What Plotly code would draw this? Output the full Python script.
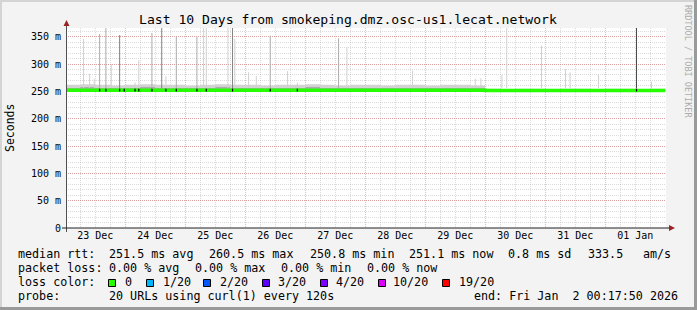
import plotly.graph_objects as go
import pandas as pd

# ---------------- data ----------------
range_start = "2025-12-23 00:17:50"
range_end = "2026-01-02 00:17:50"

# smoke band, 6-hour steps starting 2025-12-23 00:00
band_times = pd.date_range("2025-12-23 00:00", "2026-01-02 00:00", freq="6h")
smoke_lo = [249.5] * 28 + [250.0] * 13
smoke_mid = [257, 258, 257, 256, 257, 258, 257, 257, 256, 257, 258, 257, 257, 256,
             257, 257, 258, 257, 256, 257, 257, 256, 257, 257, 256, 257, 257, 256,
             253.5, 253, 253.5, 253.5, 253, 253.5, 253.5, 253, 253.5, 253.5, 253, 253.5, 253.5]
smoke_hi = [262, 263, 262, 261, 262, 263, 262, 262, 261, 262, 263, 262, 262, 261,
            262, 262, 263, 262, 261, 262, 262, 261, 262, 262, 261, 262, 262, 261,
            255, 254.5, 255, 255, 254.5, 255, 255, 254, 255, 255, 254.5, 255, 255]
median_rtt = [252.2, 252.0, 252.3, 252.1, 252.2, 252.0, 252.3, 252.1, 252.2, 252.0, 252.1, 252.2, 252.0, 252.1,
              252.2, 252.0, 252.1, 252.2, 252.0, 252.1, 252.2, 252.0, 252.1, 252.2, 252.0, 252.1, 252.0, 251.9,
              251.4, 251.5, 251.4, 251.5, 251.4, 251.6, 251.4, 251.5, 251.4, 251.5, 251.4, 251.5, 251.5]

spike_times = ["2025-12-23 07:20", "2025-12-23 09:45", "2025-12-23 11:35", "2025-12-23 13:45",
               "2025-12-23 16:15", "2025-12-23 18:25", "2025-12-23 21:45", "2025-12-24 03:55",
               "2025-12-24 05:25", "2025-12-24 10:40", "2025-12-24 14:35", "2025-12-24 16:15",
               "2025-12-24 20:25", "2025-12-25 04:40", "2025-12-25 07:20", "2025-12-25 08:25",
               "2025-12-25 17:05", "2025-12-25 18:55", "2025-12-25 19:50", "2025-12-26 01:20",
               "2025-12-26 04:25", "2025-12-26 10:00", "2025-12-26 16:55", "2025-12-26 20:50",
               "2025-12-27 13:20", "2025-12-27 16:40", "2025-12-28 18:55", "2025-12-29 20:00",
               "2025-12-29 22:15", "2025-12-30 06:40", "2025-12-30 08:35", "2025-12-30 22:30",
               "2025-12-31 08:05", "2025-12-31 09:55", "2025-12-31 21:20", "2026-01-01 12:30",
               "2026-01-01 18:30"]
spike_tops = [346, 282, 273, 355, 366, 300, 353, 266, 307, 357, 366, 278, 350, 350, 366, 366,
              366, 366, 346, 285, 278, 352, 287, 266, 347, 331, 288, 273, 274, 280, 366, 334,
              291, 285, 280, 366, 268]
spike_shade = ["l", "l", "l", "m", "m", "l", "d", "l", "l", "m", "d", "l", "m", "m", "l", "l",
               "l", "d", "l", "l", "l", "m", "l", "l", "m", "l", "l", "l", "l", "l", "l", "l",
               "l", "l", "l", "k", "l"]

mark_times = ["2025-12-23 13:45", "2025-12-23 16:15", "2025-12-23 21:45", "2025-12-23 23:35",
              "2025-12-24 03:55", "2025-12-24 05:25", "2025-12-24 10:40", "2025-12-24 16:15",
              "2025-12-24 20:25", "2025-12-25 04:40", "2025-12-25 08:25", "2025-12-25 18:55",
              "2025-12-26 10:00", "2025-12-26 20:50", "2026-01-01 12:30"]
mark_lo = [249.8] * len(mark_times)
mark_hi = [255.0] * len(mark_times)

y_tick_vals = [0, 50, 100, 150, 200, 250, 300, 350]
y_tick_text = ["0", "50 m", "100 m", "150 m", "200 m", "250 m", "300 m", "350 m"]

title_text = "Last 10 Days from smokeping.dmz.osc-us1.lecat.network"
rtt_fields = ["median rtt:", "251.5 ms avg", "260.5 ms max", "250.8 ms min", "251.1 ms now",
              "0.8 ms sd", "333.5", "am/s"]
loss_fields = ["packet loss:", "0.00 % avg", "0.00 % max", "0.00 % min", "0.00 % now"]
loss_title = "loss color:"
loss_labels = ["0", "1/20", "2/20", "3/20", "4/20", "10/20", "19/20"]
loss_colors = ["#26ff00", "#00b8ff", "#0059ff", "#5e00ff", "#7e00ff", "#dd00ff", "#ff0000"]
probe_fields = ["probe:", "20 URLs using curl(1) every 120s"]
end_text = "end: Fri Jan  2 00:17:50 2026"

# ---------------- layout helpers ----------------
W, H = 697, 310
L, R, T, B = 66, 31, 28, 82
PW, PH = W - L - R, H - T - B
MONO = "DejaVu Sans Mono"
LEG_SIZE = 11.7


def px(x):
    return (x - L) / PW


def py(y):
    return (H - B - y) / PH


def nb(s):
    return s.replace(" ", "\u00a0")


fig = go.Figure()

# smoke band
fig.add_trace(go.Scatter(x=band_times, y=smoke_lo, mode="lines", line=dict(width=0, shape="hv"),
                         hoverinfo="skip", showlegend=False))
fig.add_trace(go.Scatter(x=band_times, y=smoke_mid, mode="lines", line=dict(width=0, shape="hv"),
                         fill="tonexty", fillcolor="#ababab", hoverinfo="skip", showlegend=False))
fig.add_trace(go.Scatter(x=band_times, y=smoke_hi, mode="lines", line=dict(width=0, shape="hv"),
                         fill="tonexty", fillcolor="#d2d2d2", hoverinfo="skip", showlegend=False))

# spikes
shade_colors = {"l": "#d0d0d0", "m": "#ababab", "d": "#808080", "k": "#4a4a4a"}
for shade, col in shade_colors.items():
    xs, ys = [], []
    for t, top, s in zip(spike_times, spike_tops, spike_shade):
        if s == shade:
            xs += [t, t, None]
            ys += [256, top, None]
    fig.add_trace(go.Scatter(x=xs, y=ys, mode="lines", line=dict(color=col, width=1),
                             hoverinfo="skip", showlegend=False))

# median line
fig.add_trace(go.Scatter(x=band_times, y=median_rtt, mode="lines",
                         line=dict(color="#26ff00", width=3.5, shape="hv"),
                         hoverinfo="skip", showlegend=False))
mx, my = [], []
for t, lo, hi in zip(mark_times, mark_lo, mark_hi):
    mx += [t, t, None]
    my += [lo, hi, None]
fig.add_trace(go.Scatter(x=mx, y=my, mode="lines", line=dict(color="black", width=1.2),
                         hoverinfo="skip", showlegend=False))

minor_grid = "rgba(160,160,160,0.38)"
major_grid = "rgba(215,90,90,0.45)"

fig.update_xaxes(type="date", range=[range_start, range_end], showgrid=True,
                 gridcolor=major_grid, griddash="1px,1px", gridwidth=1,
                 dtick=86400000, tick0="2025-12-23 00:00", tickformat="%d %b",
                 ticklabelmode="period", ticks="", zeroline=False, showline=False,
                 tickfont=dict(family=MONO, size=10, color="black"),
                 minor=dict(dtick=21600000, tick0="2025-12-23 00:00", showgrid=True,
                            gridcolor=minor_grid, griddash="1px,1px", gridwidth=1),
                 fixedrange=True)
fig.update_yaxes(range=[0, 366], tickvals=y_tick_vals, ticktext=y_tick_text, showgrid=True,
                 gridcolor=major_grid, griddash="1px,1px", gridwidth=1, zeroline=False,
                 showline=False, ticks="", ticklabelstandoff=4,
                 tickfont=dict(family=MONO, size=10, color="black"),
                 minor=dict(dtick=10, tick0=0, showgrid=True, gridcolor=minor_grid,
                            griddash="1px,1px", gridwidth=1),
                 fixedrange=True)

shapes = []
# image border
shapes.append(dict(type="line", xref="paper", yref="paper", x0=px(0), x1=px(W), y0=py(1), y1=py(1),
                   line=dict(color="#d4d4d4", width=2)))
shapes.append(dict(type="line", xref="paper", yref="paper", x0=px(1), x1=px(1), y0=py(0), y1=py(H),
                   line=dict(color="#d4d4d4", width=2)))
shapes.append(dict(type="line", xref="paper", yref="paper", x0=px(0), x1=px(W), y0=py(H - 1.5), y1=py(H - 1.5),
                   line=dict(color="#9a9a9a", width=3)))
shapes.append(dict(type="line", xref="paper", yref="paper", x0=px(W - 1.5), x1=px(W - 1.5), y0=py(0), y1=py(H),
                   line=dict(color="#9a9a9a", width=3)))
# axes
shapes.append(dict(type="line", xref="paper", yref="paper", x0=px(66.5), x1=px(66.5), y0=py(232), y1=py(24),
                   line=dict(color="#505050", width=1)))
shapes.append(dict(type="line", xref="paper", yref="paper", x0=px(62), x1=px(670), y0=py(228), y1=py(228),
                   line=dict(color="#202020", width=1)))
shapes.append(dict(type="path", xref="paper", yref="paper",
                   path=f"M {px(63.5)} {py(26)} L {px(69.5)} {py(26)} L {px(66.5)} {py(20)} Z",
                   fillcolor="#9b2222", line=dict(width=0)))
shapes.append(dict(type="path", xref="paper", yref="paper",
                   path=f"M {px(669)} {py(225)} L {px(669)} {py(231)} L {px(675)} {py(228)} Z",
                   fillcolor="#9b2222", line=dict(width=0)))
# loss colour boxes
box_x = [108, 146, 203, 262, 320, 378, 442]
label_x = [123, 161, 218, 276, 334, 391, 457]
for bx, c in zip(box_x, loss_colors):
    shapes.append(dict(type="rect", xref="paper", yref="paper", x0=px(bx + 0.5), x1=px(bx + 7.5),
                       y0=py(286.5), y1=py(279.5), fillcolor=c, line=dict(color="black", width=1)))

annotations = []


def text_at(s, x, y, anchor="left", size=LEG_SIZE, **kw):
    annotations.append(dict(text=nb(s), xref="paper", yref="paper", x=px(x), y=py(y),
                            xanchor=anchor, yanchor="middle", showarrow=False,
                            font=dict(family=MONO, size=size, color=kw.pop("color", "black")), **kw))


text_at(title_text, 348, 19.5, anchor="center", size=13.1)
text_at("Seconds", 10, 128, anchor="center", size=11.5, textangle=-90)
text_at("RRDTOOL / TOBI OETIKER", 688.5, 61.5, anchor="center", size=8.5, color="#acacac", textangle=90)

rtt_x = [16, 107, 207, 308, 407, 506, 586, 641]
for s, x in zip(rtt_fields, rtt_x):
    text_at(s, x, 254.3)
loss_x = [16, 107, 193, 279, 365]
for s, x in zip(loss_fields, loss_x):
    text_at(s, x, 268.3)
text_at(loss_title, 16, 282.3)
for lx, lab in zip(label_x, loss_labels):
    text_at(lab, lx, 282.3)
probe_x = [16, 107]
for s, x in zip(probe_fields, probe_x):
    text_at(s, x, 296.2)
text_at(end_text, 680, 296.2, anchor="right")

fig.update_layout(width=W, height=H, margin=dict(l=L, r=R, t=T, b=B, pad=0),
                  paper_bgcolor="#f3f3f3", plot_bgcolor="white", showlegend=False,
                  shapes=shapes, annotations=annotations)

fig.write_html("out.html", config={"displayModeBar": False})
